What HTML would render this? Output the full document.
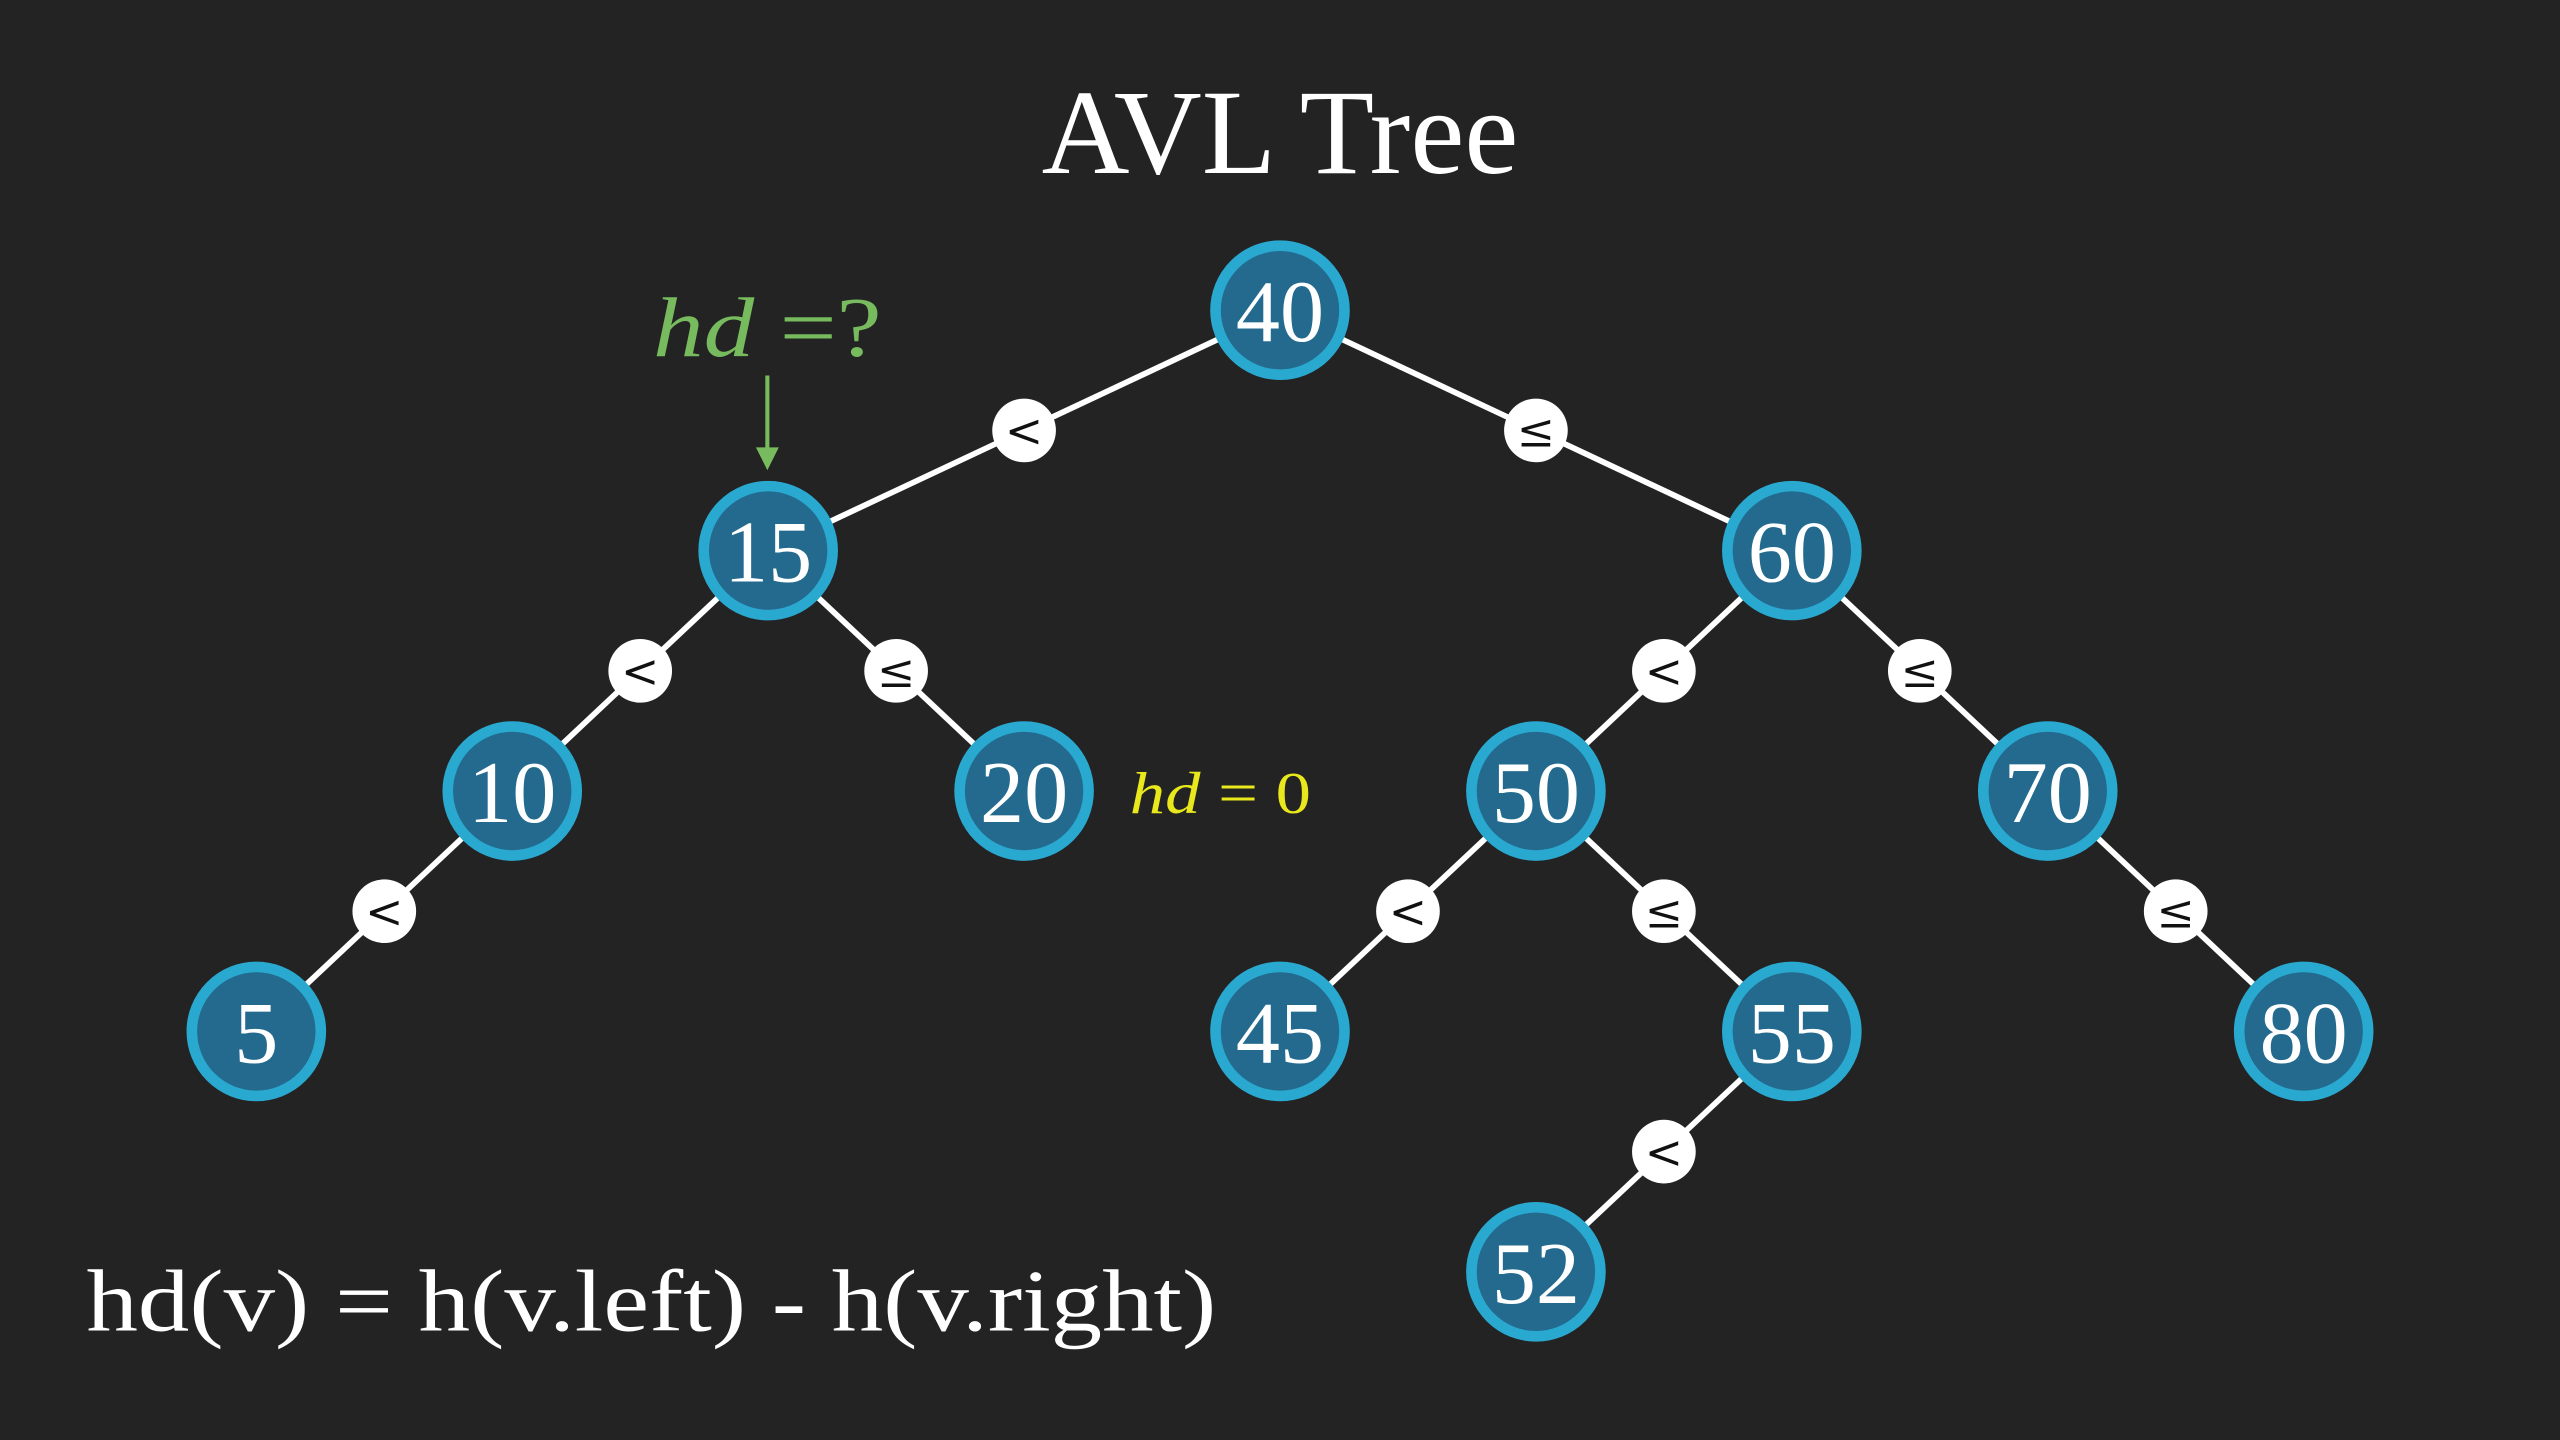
<!DOCTYPE html>
<html><head><meta charset="utf-8"><style>
html,body{margin:0;padding:0;background:#232323;}
svg{display:block}
</style></head><body>
<svg id="chart" width="2560" height="1440" viewBox="0 0 1568 882" xmlns="http://www.w3.org/2000/svg">
<rect width="1568" height="882" fill="#232323"/>
<text x="638" y="106" textLength="292" lengthAdjust="spacingAndGlyphs" font-family="Liberation Serif, serif" font-size="74" fill="#ffffff">AVL Tree</text>
<g id="edges"></g>
<g id="nodes"></g>
<text x="400" y="218" textLength="140" lengthAdjust="spacingAndGlyphs" font-family="Liberation Serif, serif" font-style="italic" font-size="52" fill="#77bb5e">hd <tspan font-style="normal">=?</tspan></text>
<line x1="470" y1="230" x2="470" y2="276" stroke="#77bb5e" stroke-width="2.5"/>
<polygon points="463,274 477,274 470,288" fill="#77bb5e"/>
<text x="692" y="498" textLength="111" lengthAdjust="spacingAndGlyphs" font-family="Liberation Serif, serif" font-style="italic" font-size="36" fill="#e8e81c">hd <tspan font-style="normal">= 0</tspan></text>
<text x="53" y="815" textLength="692" lengthAdjust="spacingAndGlyphs" font-family="Liberation Serif, serif" font-size="54" fill="#ffffff">hd(v) = h(v.left) - h(v.right)</text>
</svg>
<script>
const keys    = [40, 15, 60, 10, 20, 50, 70, 5, 45, 55, 80, 52];
const parents = [-1, 0, 0, 1, 1, 2, 2, 3, 5, 5, 6, 9];
const slots   = [4, 2, 6, 1, 3, 5, 7, 0, 4, 6, 8, 5];
const depths  = [0, 1, 1, 2, 2, 2, 2, 3, 3, 3, 3, 4];
const xScale = s => 157 + s * 156.75;
const yScale = d => 190 + d * 147.25;
const NS = 'http://www.w3.org/2000/svg';
const edgesG = document.getElementById('edges');
const nodesG = document.getElementById('nodes');
for (let i = 0; i < keys.length; i++) {
  const p = parents[i];
  if (p < 0) continue;
  const x1 = xScale(slots[p]), y1 = yScale(depths[p]);
  const x2 = xScale(slots[i]), y2 = yScale(depths[i]);
  const ln = document.createElementNS(NS, 'line');
  ln.setAttribute('x1', x1); ln.setAttribute('y1', y1);
  ln.setAttribute('x2', x2); ln.setAttribute('y2', y2);
  ln.setAttribute('stroke', '#ffffff'); ln.setAttribute('stroke-width', '3.5');
  
  
  edgesG.appendChild(ln);
  const mx = (x1 + x2) / 2, my = (y1 + y2) / 2;
  const c = document.createElementNS(NS, 'circle');
  c.setAttribute('cx', mx); c.setAttribute('cy', my); c.setAttribute('r', 19.5);
  c.setAttribute('fill', '#ffffff');
  
  
  edgesG.appendChild(c);
  const t = document.createElementNS(NS, 'text');
  t.setAttribute('x', mx); t.setAttribute('y', my + 10);
  t.setAttribute('text-anchor', 'middle');
  t.setAttribute('font-family', 'DejaVu Serif, Liberation Serif, serif');
  t.setAttribute('font-size', '28');
  t.setAttribute('fill', '#111111');
  t.textContent = x2 < x1 ? '<' : '≤';
  
  
  edgesG.appendChild(t);
}
for (let i = 0; i < keys.length; i++) {
  const cx = xScale(slots[i]), cy = yScale(depths[i]);
  const c = document.createElementNS(NS, 'circle');
  c.setAttribute('cx', cx); c.setAttribute('cy', cy); c.setAttribute('r', 39.5);
  c.setAttribute('fill', '#236a8e'); c.setAttribute('stroke', '#2aa9d0'); c.setAttribute('stroke-width', '6.5');
  
  
  nodesG.appendChild(c);
  const t = document.createElementNS(NS, 'text');
  t.setAttribute('x', cx); t.setAttribute('y', cy + 19);
  t.setAttribute('text-anchor', 'middle');
  t.setAttribute('font-family', 'Liberation Serif, serif');
  t.setAttribute('font-size', '54');
  t.setAttribute('fill', '#ffffff');
  t.textContent = keys[i];
  
  
  nodesG.appendChild(t);
}
</script>
</body></html>
